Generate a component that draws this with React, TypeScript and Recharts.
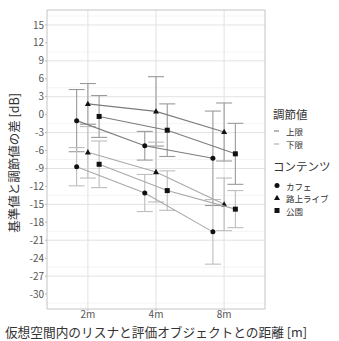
import {
  CartesianGrid,
  ComposedChart,
  ErrorBar,
  ReferenceArea,
  Scatter,
  XAxis,
  YAxis,
} from "recharts";

const FONT = '"Noto Sans CJK JP", "Noto Sans", sans-serif';

const DISTANCES = ["2m", "4m", "8m"];
const Y_TICKS = [-30, -27, -24, -21, -18, -15, -12, -9, -6, -3, 0, 3, 6, 9, 12, 15];
const Y_MINOR = Y_TICKS.map((t) => t - 1.5).concat([16.5]);

// mean and half-width of the error bar, per distance
const cafeUpper = [-1.0, -5.2, -7.3];
const cafeUpperErr = [5.2, 2.4, 7.9];
const cafeLower = [-8.7, -13.1, -19.6];
const cafeLowerErr = [3.2, 3.1, 5.4];
const liveUpper = [1.8, 0.55, -2.9];
const liveUpperErr = [3.4, 5.8, 4.85];
const liveLower = [-6.3, -9.6, -15.0];
const liveLowerErr = [4.3, 5.0, 4.4];
const parkUpper = [-0.3, -2.6, -6.55];
const parkUpperErr = [3.5, 4.4, 5.1];
const parkLower = [-8.3, -12.7, -15.8];
const parkLowerErr = [3.9, 3.3, 3.1];

type Shape = "circle" | "triangle" | "square";

const UPPER_LINE = "#7c7c7c";
const LOWER_LINE = "#a9a9a9";
const UPPER_BAR = "#9a9a9a";
const LOWER_BAR = "#bdbdbd";

// dodge offsets: カフェ left, 路上ライブ centre, 公園 right
const DODGE = { circle: -0.165, triangle: 0, square: 0.165 };

function toRows(values: number[], errs: number[], shape: Shape) {
  return values.map((y, i) => ({ x: i + 1 + DODGE[shape], y, err: errs[i] }));
}

const SERIES = [
  { key: "cafe-u", shape: "circle" as Shape, upper: true, data: toRows(cafeUpper, cafeUpperErr, "circle") },
  { key: "cafe-l", shape: "circle" as Shape, upper: false, data: toRows(cafeLower, cafeLowerErr, "circle") },
  { key: "live-u", shape: "triangle" as Shape, upper: true, data: toRows(liveUpper, liveUpperErr, "triangle") },
  { key: "live-l", shape: "triangle" as Shape, upper: false, data: toRows(liveLower, liveLowerErr, "triangle") },
  { key: "park-u", shape: "square" as Shape, upper: true, data: toRows(parkUpper, parkUpperErr, "square") },
  { key: "park-l", shape: "square" as Shape, upper: false, data: toRows(parkLower, parkLowerErr, "square") },
];

function Marker({ cx, cy, kind }: { cx: number; cy: number; kind: Shape }) {
  if (kind === "triangle")
    return (
      <polygon
        points={`${cx},${cy - 3.2} ${cx - 3},${cy + 2.1} ${cx + 3},${cy + 2.1}`}
        fill="#111"
      />
    );
  if (kind === "square")
    return <rect x={cx - 2.5} y={cy - 2.5} width={5} height={5} fill="#111" />;
  return <circle cx={cx} cy={cy} r={2.5} fill="#111" />;
}

export default function App() {
  return (
    <div
      style={{
        position: "fixed",
        left: 0,
        top: 0,
        width: 339,
        height: 341,
        background: "#fff",
        fontFamily: FONT,
      }}
    >
      <ComposedChart
        width={339}
        height={341}
        margin={{ top: 10, right: 74, bottom: 0, left: 0 }}
      >
        <CartesianGrid
          horizontalValues={Y_MINOR}
          vertical={false}
          stroke="#f1f1f1"
          strokeWidth={0.8}
        />
        <CartesianGrid
          horizontalValues={Y_TICKS}
          verticalValues={[1, 2, 3]}
          stroke="#e2e2e2"
          strokeWidth={1}
        />
        <XAxis
          type="number"
          dataKey="x"
          domain={[0.4, 3.6]}
          ticks={[1, 2, 3]}
          tickFormatter={(v: number) => DISTANCES[v - 1]}
          allowDataOverflow
          height={32}
          axisLine={false}
          tickLine={{ stroke: "#bbb" }}
          tickSize={2}
          tickMargin={0}
          tick={{ fontSize: 10, fill: "#555", fontFamily: FONT }}
        />
        <YAxis
          type="number"
          dataKey="y"
          domain={[-32.5, 17.5]}
          ticks={Y_TICKS}
          allowDataOverflow
          width={47}
          axisLine={false}
          tickLine={{ stroke: "#bbb" }}
          tickSize={2}
          tickMargin={1}
          tick={{ fontSize: 10, fill: "#555", fontFamily: FONT }}
        />
        <ReferenceArea
          x1={0.4}
          x2={3.6}
          y1={-32.5}
          y2={17.5}
          fill="none"
          stroke="#c4c4c4"
          strokeWidth={1}
        />
        {SERIES.map((s) => (
          <Scatter
            key={s.key}
            data={s.data}
            dataKey="y"
            isAnimationActive={false}
            line={{ stroke: s.upper ? UPPER_LINE : LOWER_LINE, strokeWidth: 1.1 }}
            lineType="joint"
            shape={(p: any) => <Marker cx={p.cx} cy={p.cy} kind={s.shape} />}
          >
            <ErrorBar
              dataKey="err"
              direction="y"
              width={8}
              stroke={s.upper ? UPPER_BAR : LOWER_BAR}
              strokeWidth={1.1}
              isAnimationActive={false}
            />
          </Scatter>
        ))}
      </ComposedChart>
      <svg
        width={339}
        height={341}
        style={{ position: "absolute", left: 0, top: 0, pointerEvents: "none" }}
        fontFamily={FONT}
      >
        <text
          x={13.5}
          y={163}
          transform="rotate(-90 13.5 163)"
          textAnchor="middle"
          dominantBaseline="central"
          fontSize={12.5}
          fill="#333"
        >
          基準値と調節値の差 [dB]
        </text>
        <text
          x={156}
          y={331}
          textAnchor="middle"
          dominantBaseline="central"
          fontSize={12.7}
          fill="#333"
        >
          仮想空間内のリスナと評価オブジェクトとの距離 [m]
        </text>

        <text x={273} y={114} dominantBaseline="central" fontSize={11.5} fill="#333">
          調節値
        </text>
        <line x1={274} x2={279} y1={131} y2={131} stroke={UPPER_LINE} strokeWidth={1.1} />
        <line x1={274} x2={279} y1={144} y2={144} stroke={LOWER_LINE} strokeWidth={1.1} />
        <text x={286} y={131} dominantBaseline="central" fontSize={8.5} fill="#333">
          上限
        </text>
        <text x={286} y={144} dominantBaseline="central" fontSize={8.5} fill="#333">
          下限
        </text>

        <text x={273} y={166} dominantBaseline="central" fontSize={11.5} fill="#333">
          コンテンツ
        </text>
        <Marker cx={277} cy={185.5} kind="circle" />
        <Marker cx={277} cy={198} kind="triangle" />
        <Marker cx={277} cy={210.5} kind="square" />
        <text x={286} y={185.5} dominantBaseline="central" fontSize={8.5} fill="#333">
          カフェ
        </text>
        <text x={286} y={198} dominantBaseline="central" fontSize={8.5} fill="#333">
          路上ライブ
        </text>
        <text x={286} y={210.5} dominantBaseline="central" fontSize={8.5} fill="#333">
          公園
        </text>
      </svg>
    </div>
  );
}
